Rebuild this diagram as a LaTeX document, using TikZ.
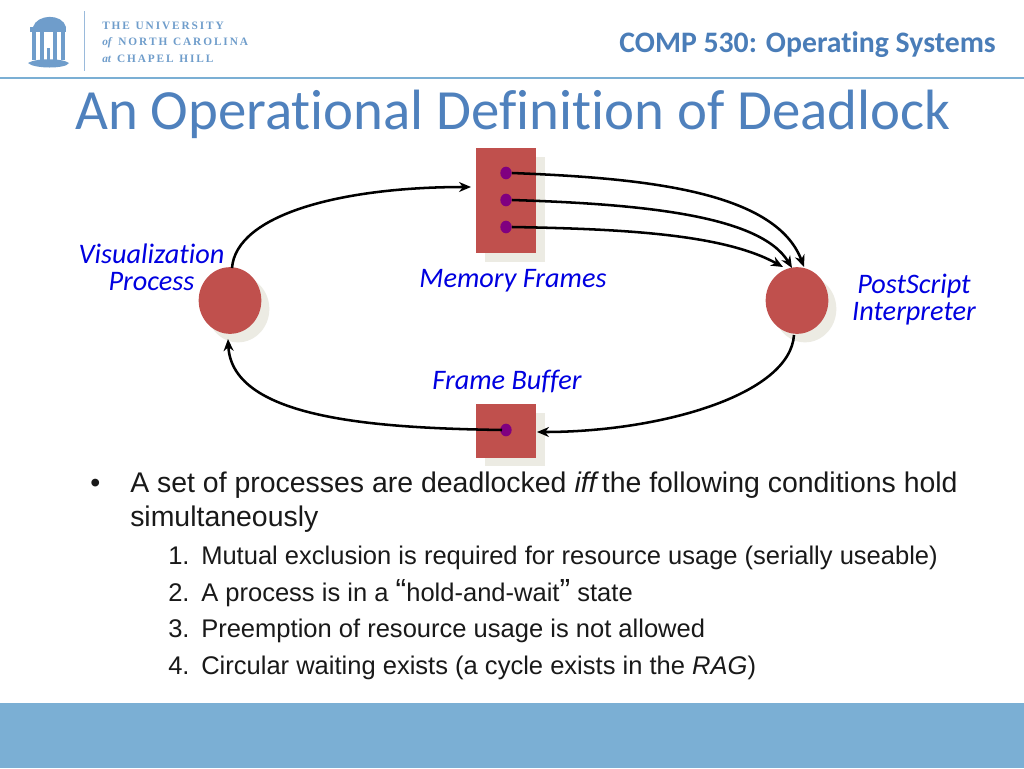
\documentclass[tikz,border=0pt]{standalone}
\usepackage{fontspec}
\setmainfont{Liberation Sans}
\newfontfamily\carlito[Ligatures=CommonOff]{Carlito}
\newfontfamily\lserif{Liberation Serif}
\definecolor{titleblue}{HTML}{4F81BD}
\definecolor{headblue}{HTML}{4A7DB8}
\definecolor{barblue}{HTML}{7BAFD4}
\definecolor{logoblue}{HTML}{6F9DCB}
\definecolor{redfill}{HTML}{C0504D}
\definecolor{shadowc}{HTML}{ECEBE3}
\definecolor{dotc}{HTML}{800080}
\definecolor{labelblue}{HTML}{0000E0}
\usetikzlibrary{arrows.meta,shapes.geometric}
\tikzset{
  px/.style={x=0.75pt,y=-0.75pt},
  resbox/.style={fill=redfill,draw=none,inner sep=0pt,minimum width=45pt},
  shadowbox/.style={fill=shadowc,draw=none,inner sep=0pt,minimum width=45pt},
  proc/.style={ellipse,fill=redfill,draw=none,inner sep=0pt,minimum width=47pt,minimum height=50pt},
  procshadow/.style={ellipse,fill=shadowc,draw=none,inner sep=0pt,minimum width=47pt,minimum height=50pt},
  dotn/.style={ellipse,fill=dotc,draw=none,inner sep=0pt,minimum width=8.5pt,minimum height=9.5pt},
  conn/.style={draw=black,line width=1.9pt,-{Stealth[length=9pt,width=7.5pt]}},
  lab/.style={anchor=base,font=\carlito\itshape\fontsize{21.2pt}{22pt}\selectfont,text=labelblue,inner sep=0pt},
  body/.style={anchor=base west,inner sep=0pt,text=black!90},
  big/.style={body,font=\fontsize{21.33pt}{24pt}\selectfont},
  small/.style={body,font=\fontsize{19.15pt}{21pt}\selectfont},
  logot/.style={anchor=base west,inner sep=0pt,text=logoblue,font=\lserif\bfseries\fontsize{8.5pt}{9pt}\selectfont},
}
\begin{document}
\begin{tikzpicture}[px]
\useasboundingbox (0,0) rectangle (1024,768);
\fill[white] (0,0) rectangle (1024,768);
% bottom band and header rule
\fill[barblue] (0,703) rectangle (1024,768);
\fill[barblue] (0,77.3) rectangle (1024,78.5);
% logo
\fill[logoblue] (33,27) .. controls (37,14) and (62,13) .. (66,27) -- cycle;
\fill[logoblue] (30,27) rectangle (66,32);
\fill[logoblue] (32,32) rectangle (36,60);
\fill[logoblue] (40,32) rectangle (44,60);
\fill[logoblue] (53,32) rectangle (57,60);
\fill[logoblue] (61,32) rectangle (65,60);
\fill[logoblue] (47,48) rectangle (50,60);
\fill[logoblue] (28,63) .. controls (36,58) and (62,58) .. (69,63) .. controls (66,69) and (34,69) .. (28,63) -- cycle;
\draw[logoblue!70,line width=0.7pt] (84,11) -- (84,71);
\node[logot] (l1) at (102,29) {T\,H\,E\ \ U\,N\,I\,V\,E\,R\,S\,I\,T\,Y};
\node[logot] (l2) at (102,45.5) {\textit{of}\ \ N\,O\,R\,T\,H\ \ C\,A\,R\,O\,L\,I\,N\,A};
\node[logot] (l3) at (102,62) {\textit{at}\ \ C\,H\,A\,P\,E\,L\ \ H\,I\,L\,L};
% header
\node[anchor=base east,inner sep=0pt,text=headblue,font=\carlito\bfseries\fontsize{22.3pt}{24pt}\selectfont] (course) at (996,52) {COMP 530: Operating Systems};
\node[anchor=base west,inner sep=0pt,text=titleblue,font=\carlito\fontsize{42.6pt}{48pt}\selectfont] (title) at (75,129) {An Operational Definition of Deadlock};
% shadows
\node[shadowbox,minimum height=78.75pt] (memsh) at (515,209.5) {};
\node[shadowbox,minimum height=40pt] (fbsh) at (515,439.5) {};
\node[procshadow] (vpsh) at (238,309) {};
\node[procshadow] (pssh) at (805,309) {};
% shapes
\node[resbox,minimum height=78.75pt] (mem) at (506,200.5) {};
\node[resbox,minimum height=40pt] (fb) at (506,431) {};
\node[proc] (vp) at (230,300.5) {};
\node[proc] (ps) at (797,300.5) {};
\node[dotn] (d1) at (506,173) {};
\node[dotn] (d2) at (506,200) {};
\node[dotn] (d3) at (506,227) {};
\node[dotn] (d4) at (506,430) {};
\coordinate (vptop) at (232,268);
\coordinate (memin) at (471,187);
\coordinate (psb) at (794,335);
\coordinate (fbin) at (537,432);
\coordinate (fbout) at (502,430);
\coordinate (vpb) at (228,339);
\coordinate (p1) at (804,267);
\coordinate (p2) at (792,268);
\coordinate (p3) at (783,267);
% connectors
\draw[conn] (vptop) .. controls (236,215) and (340,187) .. (memin);
\draw[conn] (d1.east) .. controls (640,178) and (775,190) .. (p1);
\draw[conn] (d2.east) .. controls (640,204) and (760,215) .. (p2);
\draw[conn] (d3.east) .. controls (630,229) and (725,235) .. (p3);
\draw[conn] (psb) .. controls (790,395) and (660,432) .. (fbin);
\draw[conn] (fbout) .. controls (380,428) and (232,420) .. (vpb);
% labels
\node[lab] (lvp1) at (151.5,263) {Visualization};
\node[lab] (lvp2) at (151.5,290) {Process};
\node[lab] (lmem) at (513,287) {Memory Frames};
\node[lab] (lps1) at (914,293) {PostScript};
\node[lab] (lps2) at (914,320) {Interpreter};
\node[lab] (lfb) at (507,389) {Frame Buffer};
% body text
\node[big] (bul) at (90,492) {•};
\node[big] (t1) at (130,492) {A set of processes are deadlocked \textit{iff\kern-2pt} the following conditions hold};
\node[big] (t2) at (130,526) {simultaneously};
\node[small] (n1) at (168,564) {1.};
\node[small] (s1) at (201,564) {Mutual exclusion is required for resource usage (serially useable)};
\node[small] (n2) at (168,601) {2.};
\node[small] (s2) at (201,601) {A process is in a {\fontsize{24pt}{24pt}\selectfont “}hold-and-wait{\fontsize{24pt}{24pt}\selectfont ”} state};
\node[small] (n3) at (168,637) {3.};
\node[small] (s3) at (201,637) {Preemption of resource usage is not allowed};
\node[small] (n4) at (168,674) {4.};
\node[small] (s4) at (201,674) {Circular waiting exists (a cycle exists in the \textit{RAG})};
\end{tikzpicture}
\end{document}
